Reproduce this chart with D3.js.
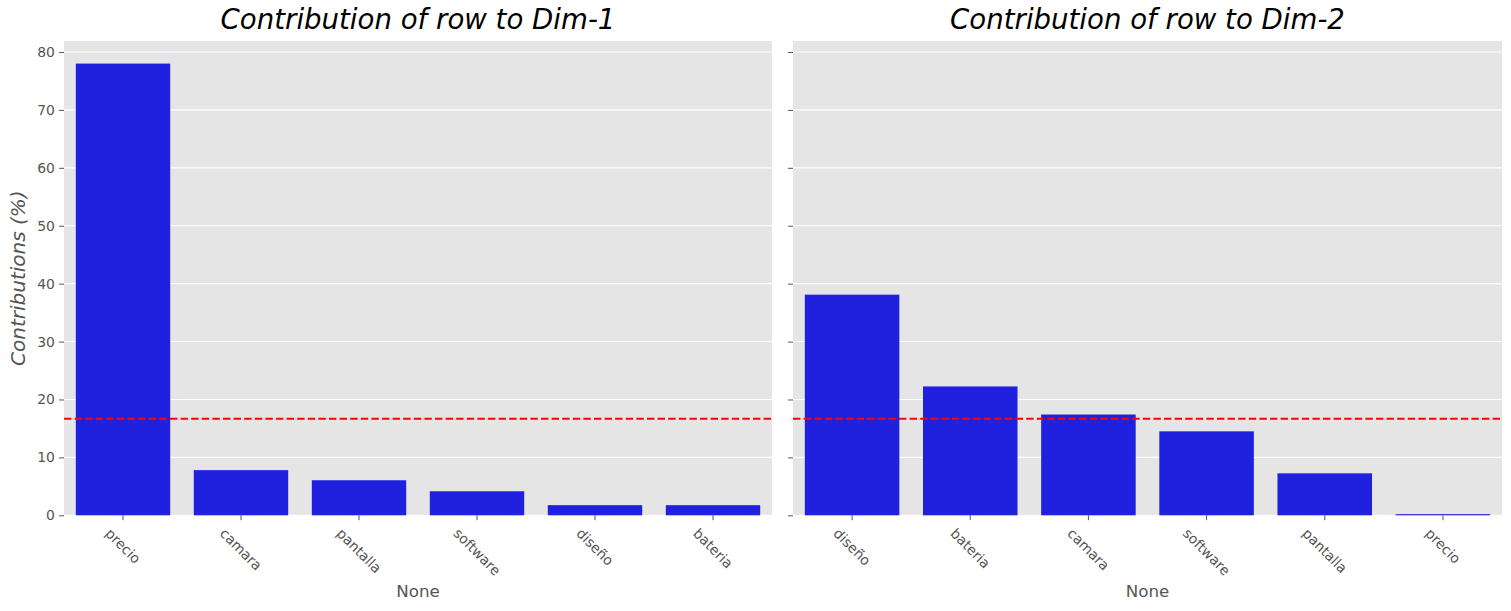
<!DOCTYPE html>
<html><head><meta charset="utf-8">
<script src="https://cdn.jsdelivr.net/npm/d3@7"></script>
<style>
html,body{margin:0;padding:0;background:#fff;}
text{font-family:"DejaVu Sans",sans-serif;}
</style></head>
<body><svg id="c" width="1511" height="611"></svg>
<script>
// Data
const dim1Categories = ["precio","camara","pantalla","software","diseño","bateria"];
const dim1Values = [78.0, 7.8, 6.05, 4.15, 1.75, 1.75];
const dim2Categories = ["diseño","bateria","camara","software","pantalla","precio"];
const dim2Values = [38.1, 22.25, 17.4, 14.5, 7.25, 0.2];
const yTicks = [0,10,20,30,40,50,60,70,80];
const titles = ["Contribution of row to Dim-1","Contribution of row to Dim-2"];
const refLine = 100/6;
const yLabel = "Contributions (%)";
const xLabel = "None";

(function(){
const svg = d3.select("#c");
const plotTop = 41, plotBottom = 515.3;
const panels = [
  {x0:64, x1:772, cats:dim1Categories, vals:dim1Values, title:titles[0], showY:true},
  {x0:793, x1:1502, cats:dim2Categories, vals:dim2Values, title:titles[1], showY:false}
];
const ymax = 1.05*d3.max(dim1Values.concat(dim2Values));
const y = d3.scaleLinear().domain([0, ymax]).range([plotBottom, plotTop]);
const barColor = "#2020df";
const grey = "#555555";

panels.forEach(p=>{
  const g = svg.append("g");
  const x = d3.scaleBand().domain(p.cats).range([p.x0,p.x1]).paddingInner(0.2).paddingOuter(0.1);
  g.append("rect").attr("x",p.x0).attr("y",plotTop).attr("width",p.x1-p.x0).attr("height",plotBottom-plotTop).attr("fill","#e5e5e5");
  g.selectAll(".grid").data(yTicks).join("line")
    .attr("x1",p.x0).attr("x2",p.x1).attr("y1",d=>y(d)).attr("y2",d=>y(d))
    .attr("stroke","#fff").attr("stroke-width",1.1);
  g.selectAll(".bar").data(p.cats).join("rect")
    .attr("x",d=>x(d)).attr("width",x.bandwidth())
    .attr("y",(d,i)=>y(p.vals[i])).attr("height",(d,i)=>y(0)-y(p.vals[i]))
    .attr("fill",barColor);
  g.append("line").attr("x1",p.x0).attr("x2",p.x1).attr("y1",y(refLine)).attr("y2",y(refLine))
    .attr("stroke","red").attr("stroke-width",2).attr("stroke-dasharray","7.4,3.2");
  const ya = d3.axisLeft(y).tickValues(yTicks).tickSize(4.9).tickPadding(4.2);
  if(!p.showY) ya.tickFormat("");
  const yg = g.append("g").attr("transform",`translate(${p.x0},0)`).call(ya);
  yg.select(".domain").remove();
  yg.selectAll(".tick line").attr("stroke",grey).attr("stroke-width",1);
  yg.selectAll(".tick text").attr("fill",grey).style("font-size","13.9px").style("font-family","DejaVu Sans");
  const xa = d3.axisBottom(x).tickSize(4.9).tickFormat("");
  const xg = g.append("g").attr("transform",`translate(0,${plotBottom})`).call(xa);
  xg.select(".domain").remove();
  xg.selectAll(".tick line").attr("stroke",grey).attr("stroke-width",1);
  const fs = 13.9, a = 0.93*fs, dsc = 0.24*fs, c = Math.SQRT1_2;
  p.cats.forEach(cat=>{
    const t = g.append("text").text(cat).attr("fill",grey).style("font-size",fs+"px");
    const w = t.node().getComputedTextLength();
    const tx = x(cat)+x.bandwidth()/2 - c*(w+a-dsc)/2;
    const ty = plotBottom + 4.9 + 4.9 + c*a;
    t.attr("transform",`translate(${tx},${ty}) rotate(45)`);
  });
  g.append("text").text(xLabel).attr("x",(p.x0+p.x1)/2).attr("y",597)
    .attr("text-anchor","middle").attr("fill",grey).style("font-size","16.7px");
  g.append("text").text(p.title).attr("x",(p.x0+p.x1)/2).attr("y",29)
    .attr("text-anchor","middle").attr("fill","#000").style("font-size","27.6px").style("font-style","italic");
  if(p.showY){
    g.append("text").text(yLabel).attr("transform",`translate(24.5,${(plotTop+plotBottom)/2}) rotate(-90)`)
      .attr("text-anchor","middle").attr("fill",grey).style("font-size","20px").style("font-style","italic");
  }
});
})();
</script></body></html>
